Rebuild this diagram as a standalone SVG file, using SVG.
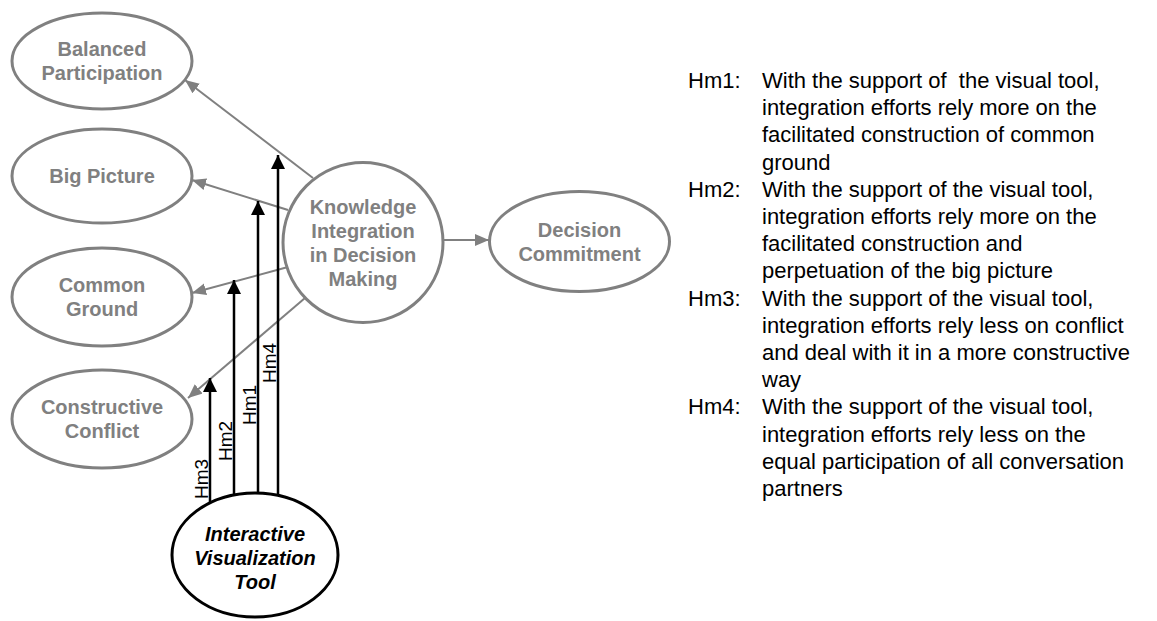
<svg xmlns="http://www.w3.org/2000/svg" width="1157" height="621" viewBox="0 0 1157 621">
<style>
.n{fill:#fff;stroke:#808080;stroke-width:3}
.nt{font-family:"Liberation Sans",Arial,sans-serif;font-size:20px;font-weight:bold;fill:#808080;text-anchor:middle}
.tool{fill:#fff;stroke:#000;stroke-width:3}
.tt{font-family:"Liberation Sans",Arial,sans-serif;font-size:20px;font-weight:bold;font-style:italic;fill:#000;text-anchor:middle}
.g{stroke:#808080;stroke-width:2;fill:none;marker-end:url(#ga)}
.b{stroke:#000;stroke-width:2.5;fill:none;marker-end:url(#ba)}
.hl{font-family:"Liberation Sans",Arial,sans-serif;font-size:19px;fill:#000;text-anchor:middle}
.d{font-family:"Liberation Sans",Arial,sans-serif;font-size:22px;fill:#000}
</style>
<defs>
<marker id="ga" markerUnits="userSpaceOnUse" markerWidth="15" markerHeight="13" refX="14" refY="6" orient="auto"><path d="M0,0 L14,6 L0,12 z" fill="#808080"/></marker>
<marker id="ba" markerUnits="userSpaceOnUse" markerWidth="15" markerHeight="15" refX="14" refY="7" orient="auto"><path d="M0,0 L14,7 L0,14 z" fill="#000"/></marker>
</defs>
<g id="connectors">
<line class="g" x1="313" y1="178" x2="185" y2="80"/>
<line class="g" x1="288" y1="210" x2="192" y2="180"/>
<line class="g" x1="288" y1="267" x2="192" y2="293"/>
<line class="g" x1="305" y1="298" x2="188" y2="398"/>
<line class="g" x1="443" y1="240" x2="489" y2="240"/>
<line class="b" x1="210" y1="503" x2="210" y2="378"/>
<line class="b" x1="234" y1="495" x2="234" y2="280"/>
<line class="b" x1="258" y1="493" x2="258" y2="201"/>
<line class="b" x1="278" y1="495" x2="278" y2="155"/>
<text class="hl" transform="translate(208,479) rotate(-90)">Hm3</text>
<text class="hl" transform="translate(232,441) rotate(-90)">Hm2</text>
<text class="hl" transform="translate(256,405) rotate(-90)">Hm1</text>
<text class="hl" transform="translate(276,363) rotate(-90)">Hm4</text>
</g>
<g id="balanced"><ellipse class="n" cx="102" cy="61" rx="90" ry="48"/><text class="nt" x="102" y="56">Balanced</text><text class="nt" x="102" y="80">Participation</text></g>
<g id="bigpicture"><ellipse class="n" cx="102" cy="176" rx="90" ry="47"/><text class="nt" x="102" y="183">Big Picture</text></g>
<g id="commonground"><ellipse class="n" cx="102" cy="297" rx="90" ry="49"/><text class="nt" x="102" y="292">Common</text><text class="nt" x="102" y="316">Ground</text></g>
<g id="conflict"><ellipse class="n" cx="102" cy="419" rx="90" ry="49"/><text class="nt" x="102" y="414">Constructive</text><text class="nt" x="102" y="438">Conflict</text></g>
<g id="knowledge"><circle class="n" cx="363" cy="242.5" r="80"/><text class="nt" x="363" y="213.5">Knowledge</text><text class="nt" x="363" y="237.5">Integration</text><text class="nt" x="363" y="261.5">in Decision</text><text class="nt" x="363" y="285.5">Making</text></g>
<g id="commitment"><ellipse class="n" cx="579.5" cy="241.5" rx="90" ry="50"/><text class="nt" x="579.5" y="236.5">Decision</text><text class="nt" x="579.5" y="260.5">Commitment</text></g>
<g id="tool"><ellipse class="tool" cx="255" cy="555" rx="83" ry="62"/><text class="tt" x="255" y="541">Interactive</text><text class="tt" x="255" y="565">Visualization</text><text class="tt" x="255" y="589">Tool</text></g>
<g id="legend">
<text class="d" x="688" y="88">Hm1:</text>
<text class="d" x="762" y="88" xml:space="preserve">With the support of  the visual tool,</text>
<text class="d" x="762" y="115.2">integration efforts rely more on the</text>
<text class="d" x="762" y="142.4">facilitated construction of common</text>
<text class="d" x="762" y="169.6">ground</text>
<text class="d" x="688" y="196.8">Hm2:</text>
<text class="d" x="762" y="196.8">With the support of the visual tool,</text>
<text class="d" x="762" y="224">integration efforts rely more on the</text>
<text class="d" x="762" y="251.2">facilitated construction and</text>
<text class="d" x="762" y="278.4">perpetuation of the big picture</text>
<text class="d" x="688" y="305.6">Hm3:</text>
<text class="d" x="762" y="305.6">With the support of the visual tool,</text>
<text class="d" x="762" y="332.8">integration efforts rely less on conflict</text>
<text class="d" x="762" y="360">and deal with it in a more constructive</text>
<text class="d" x="762" y="387.2">way</text>
<text class="d" x="688" y="414.4">Hm4:</text>
<text class="d" x="762" y="414.4">With the support of the visual tool,</text>
<text class="d" x="762" y="441.6">integration efforts rely less on the</text>
<text class="d" x="762" y="468.8">equal participation of all conversation</text>
<text class="d" x="762" y="496">partners</text>
</g>
</svg>
